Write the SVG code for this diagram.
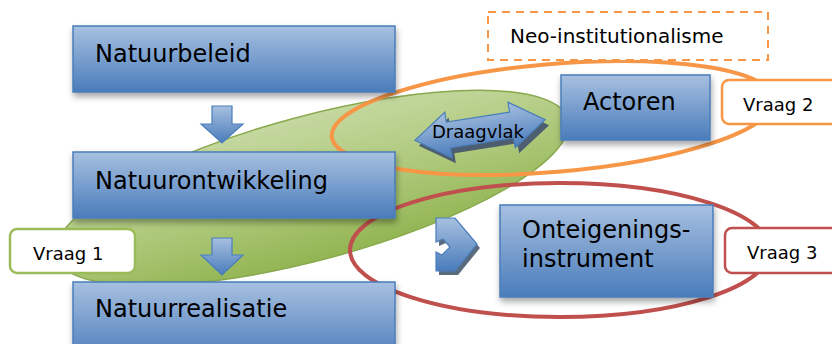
<svg xmlns="http://www.w3.org/2000/svg" width="832" height="344" viewBox="0 0 832 344">
<defs>
<linearGradient id="blue" x1="0" y1="0" x2="0" y2="1">
<stop offset="0" stop-color="#a7c0e0"/>
<stop offset="1" stop-color="#4a7cbb"/>
</linearGradient>
<linearGradient id="green" x1="0" y1="0" x2="0" y2="1">
<stop offset="0" stop-color="#c5d8a0"/>
<stop offset="0.6" stop-color="#aac675"/>
<stop offset="1" stop-color="#93b552"/>
</linearGradient>
<filter id="sh" x="-10%" y="-20%" width="125%" height="160%">
<feDropShadow dx="1" dy="4" stdDeviation="3" flood-color="#000" flood-opacity="0.35"/>
</filter>
</defs>
<style>
.box{fill:url(#blue);stroke:#4a7ebb;stroke-width:1.5;filter:url(#sh)}
.big{font-family:"DejaVu Sans",Verdana,sans-serif;font-size:24px;fill:#000}
.q{font-family:"DejaVu Sans",Verdana,sans-serif;font-size:18px;fill:#000}
.tag{fill:#fff;stroke-width:2.5}
.arr{fill:url(#blue);stroke:#4a7ebb;stroke-width:1.2}
</style>

<g id="draagvlak-ellipse">
<ellipse cx="312" cy="188" rx="265" ry="72" transform="rotate(-15 312 188)" fill="url(#green)" stroke="#89a94e" stroke-width="1.5"/>
</g>

<g id="neo-ellipse">
<ellipse cx="553" cy="118" rx="222" ry="54" transform="rotate(-4.8 553 118)" fill="none" stroke="#f79646" stroke-width="4"/>
</g>

<g id="onteigening-ellipse">
<ellipse cx="560" cy="250" rx="210" ry="67" fill="none" stroke="#c0504d" stroke-width="4"/>
</g>

<g id="natuurbeleid">
<rect class="box" x="73" y="26" width="322" height="66"/>
<text class="big" x="95" y="62">Natuurbeleid</text>
</g>

<g id="natuurontwikkeling">
<rect class="box" x="73" y="152" width="322" height="66"/>
<text class="big" x="95" y="189">Natuurontwikkeling</text>
</g>

<g id="natuurrealisatie">
<rect class="box" x="73" y="282" width="322" height="80"/>
<text class="big" x="95" y="317">Natuurrealisatie</text>
</g>

<g id="connectors">
<polygon class="arr" points="212,106 232,106 232,124 243,124 222,143 201,124 212,124"/>
<polygon class="arr" points="212,238 232,238 232,255 243,255 222,275 201,255 212,255"/>
<g transform="translate(480 130) rotate(-9)">
<polygon points="-66,0 -32,-23 -32,-13 32,-13 32,-23 66,0 32,23 32,13 -32,13 -32,23" fill="#4d5e70" transform="translate(3 6)"/>
<polygon class="arr" points="-66,0 -32,-23 -32,-13 32,-13 32,-23 66,0 32,23 32,13 -32,13 -32,23"/>
</g>
<g id="chevron">
<polygon points="436,218 455,218 477,244 455,271 436,271 436,252 442,255 450,247 443,239 436,242" fill="#5a6b80" transform="translate(3 4)"/>
<polygon class="arr" points="436,218 455,218 477,244 455,271 436,271 436,252 442,255 450,247 443,239 436,242"/>
</g>
</g>

<g id="draagvlak-label">
<text class="q" x="432" y="138">Draagvlak</text>
</g>

<g id="actoren">
<rect class="box" x="561" y="75" width="149" height="65"/>
<text class="big" x="583" y="110">Actoren</text>
</g>

<g id="onteigeningsinstrument">
<rect class="box" x="500" y="205" width="213" height="92"/>
<text class="big" x="522" y="238">Onteigenings-</text>
<text class="big" x="522" y="267">instrument</text>
</g>

<g id="neo-institutionalisme">
<rect x="488" y="12" width="280" height="48" fill="#fff" stroke="#f79646" stroke-width="2" stroke-dasharray="8,6"/>
<text x="510" y="43" font-family="DejaVu Sans, Verdana, sans-serif" font-size="20" fill="#000">Neo-institutionalisme</text>
</g>

<g id="vraag1">
<rect class="tag" x="10" y="229" width="125" height="44" rx="7" stroke="#9bbb59"/>
<text class="q" x="33" y="260">Vraag 1</text>
</g>

<g id="vraag2">
<rect class="tag" x="722" y="80" width="130" height="44" rx="7" stroke="#f79646"/>
<text class="q" x="743" y="111">Vraag 2</text>
</g>

<g id="vraag3">
<rect class="tag" x="725" y="228" width="130" height="45" rx="7" stroke="#c0504d"/>
<text class="q" x="747" y="259">Vraag 3</text>
</g>
</svg>
